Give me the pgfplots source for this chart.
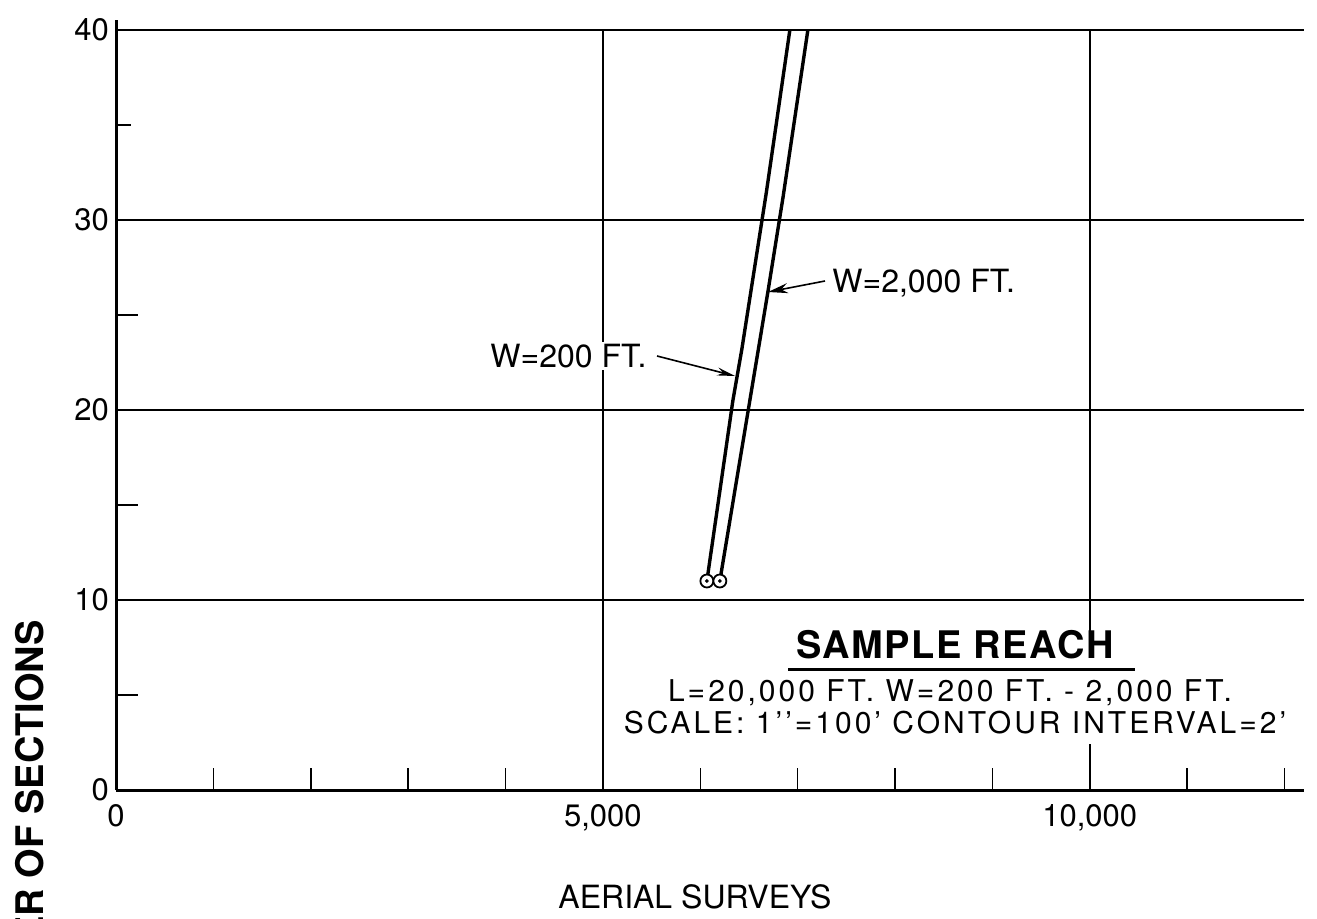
\documentclass[border=0pt]{standalone}
\usepackage{fontspec}
\setmainfont{TeX Gyre Heros}
\newfontfamily\spaced[LetterSpace=10]{TeX Gyre Heros}
\newfontfamily\spacedb[LetterSpace=4]{TeX Gyre Heros}
\usepackage{pgfplots}
\pgfplotsset{compat=1.18}
\usetikzlibrary{arrows.meta}
\begin{document}
\begin{tikzpicture}
\begin{axis}[
  at={(58pt,-395pt)}, anchor=south west,
  scale only axis, width=594pt, height=380pt,
  xmin=0, xmax=12200, ymin=0, ymax=40,
  axis lines=left,
  axis line style={-, line width=1.5pt},
  y axis line style={shorten >=-5pt},
  scaled x ticks=false,
  xtick={0,5000,10000}, xticklabels={0,{5,000},{10,000}},
  ytick={0,10,20,30,40},
  minor xtick={1000,2000,3000,4000,6000,7000,8000,9000,11000,12000},
  minor ytick={5,15,25,35},
  major tick length=0pt, minor tick length=11pt,
  tick align=inside,
  minor y tick style={shorten >=3.5pt},
  tick style={black, line width=0.75pt},
  grid=major, major grid style={black, line width=0.75pt},
  ticklabel style={font=\fontsize{15.5}{18}\selectfont},
  /pgf/number format/assume math mode=true,
  xticklabel style={yshift=-3.5pt},
  clip=false,
]
\addplot[black, line width=1.7pt] coordinates {(6068,11) (6335,20.5) (6427,23.2) (6680,31.5) (6920,40)};
\addplot[black, line width=1.7pt] coordinates {(6201,11) (6694,26.2) (6850,31.2) (7105,40)};
\addplot[only marks, mark=*, mark size=3.25pt, mark options={fill=white, draw=black, line width=0.9pt}] coordinates {(6068,11) (6201,11)};
\addplot[only marks, mark=*, mark size=0.7pt, black] coordinates {(6068,11) (6201,11)};
\end{axis}
% gap in the 10,000 grid line behind the text block
\fill[white] (538pt,-316pt) rectangle (552pt,-372pt);
% annotations
\node[anchor=west, font=\fontsize{16}{19}\selectfont, inner sep=1pt] at (415pt,-141.5pt) {W=2,000 FT.};
\draw[line width=0.8pt, -{Stealth[length=10pt,width=5pt]}] (412.5pt,-140.5pt) -- (384pt,-146pt);
\node[anchor=west, fill=white, inner sep=1pt, font=\fontsize{16}{19}\selectfont] at (244pt,-178pt) {W=200 FT.};
\draw[line width=0.8pt, -{Stealth[length=9pt,width=4pt]}] (328.5pt,-178pt) -- (367.5pt,-188pt);
\node[inner sep=1pt, font=\spacedb\bfseries\fontsize{19}{22}\selectfont] at (477.5pt,-322.5pt) {SAMPLE REACH};
\draw[line width=1.5pt] (394pt,-334.5pt) -- (567.5pt,-334.5pt);
\node[anchor=base, inner sep=0pt, font=\spaced\fontsize{15}{17}\selectfont] at (475pt,-350.5pt) {L=20,000 FT. W=200 FT. - 2,000 FT.};
\node[anchor=base, inner sep=0pt, font=\spaced\fontsize{15}{17}\selectfont] at (477.5pt,-366.5pt) {SCALE: 1’’=100’ CONTOUR INTERVAL=2’};
\node[font=\fontsize{16}{19}\selectfont] at (347.5pt,-448.5pt) {AERIAL SURVEYS};
\node[rotate=90, anchor=base east, inner sep=0pt, font=\bfseries\fontsize{19}{22}\selectfont] at (21.5pt,-310pt) {NUMBER OF SECTIONS};
\pgfresetboundingbox
\useasboundingbox (0pt,0pt) rectangle (658.5pt,-459.5pt);
\end{tikzpicture}
\end{document}
